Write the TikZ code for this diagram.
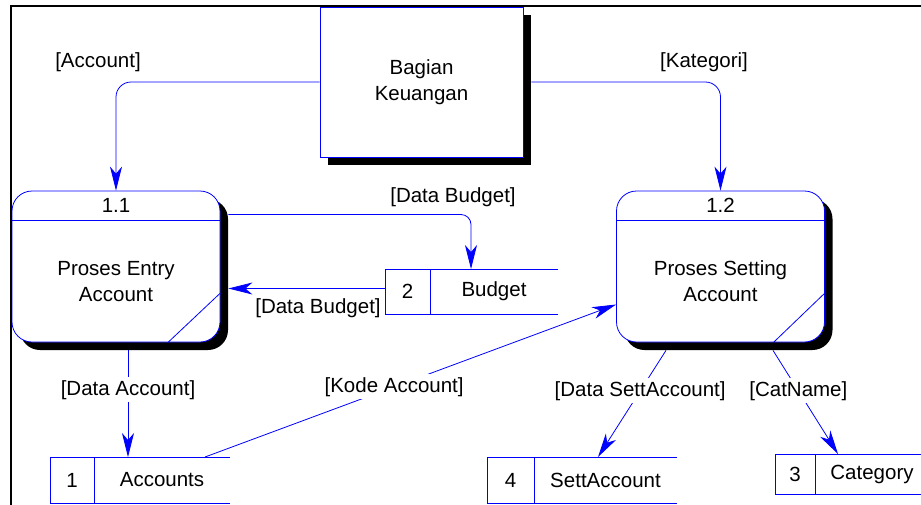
\documentclass[tikz,border=0pt]{standalone}
\usepackage{fontspec}
\setmainfont{Liberation Sans}
\usetikzlibrary{shapes,arrows.meta,positioning,calc,shadows}
\definecolor{flowblue}{RGB}{0,0,255}
\tikzset{
    % Define standard node styles
    entitybox/.style={
        rectangle, draw=flowblue, fill=white, line width=0.8pt,
        minimum width=203pt, minimum height=150pt, align=center,
        drop shadow={shadow xshift=8pt, shadow yshift=-8pt, fill=black, opacity=1}
    },
    processbox/.style={
        rectangle, draw=flowblue, fill=white, line width=0.8pt,
        minimum width=208pt, minimum height=151pt,
        rounded corners=20pt,
        drop shadow={shadow xshift=8pt, shadow yshift=-8pt, fill=black, opacity=1}
    },
    proctext/.style={
        align=center, inner sep=0pt
    },
    storeid/.style={
        rectangle, draw=flowblue, line width=0.8pt,
        inner sep=0pt, outer sep=0pt
    },
    storename/.style={
        rectangle, inner sep=0pt, outer sep=0pt
    },
    storeline/.style={
        draw=flowblue, line width=0.8pt
    },
    flow/.style={
        ->, draw=flowblue, line width=0.8pt
    },
    flowlabel/.style={
        inner sep=2pt, text=black
    },
    linelabel/.style={
        fill=white, inner sep=3pt, text=black
    }
}
\begin{document}
\begin{tikzpicture}[x=1pt, y=-1pt, font=\fontsize{20.5pt}{26pt}\selectfont,
    >={Stealth[length=24pt, width=12pt, inset=7pt]}]

\useasboundingbox (0,0) rectangle (921,504);
\clip (0,0) rectangle (921,504);

% External entity
\node[entitybox] (bagian) at (421.5,82) {Bagian\\Keuangan};

% Processes
\node[processbox] (p11) at (116,266.5) {};
\node[proctext] (p11num) at ($(p11.north)+(0,15)$) {1.1};
\node[proctext] (p11name) at ($(p11.center)+(0,15)$) {Proses Entry\\Account};
\draw[storeline] ($(p11.north west)+(0,30)$) -- ($(p11.north east)+(0,30)$);
\draw[storeline] ($(p11.east)+(0,26.5)$) -- ($(p11.south)+(52,0)$);

\node[processbox] (p12) at (720.5,266.5) {};
\node[proctext] (p12num) at ($(p12.north)+(0,15)$) {1.2};
\node[proctext] (p12name) at ($(p12.center)+(0,15)$) {Proses Setting\\Account};
\draw[storeline] ($(p12.north west)+(0,30)$) -- ($(p12.north east)+(0,30)$);
\draw[storeline] ($(p12.east)+(0,26.5)$) -- ($(p12.south)+(53,0)$);

% Data stores
\node[storeid, minimum width=45pt, minimum height=45pt] (s2) at (407.5,291.5) {2};
\node[storename, minimum width=128pt, minimum height=45pt, right=0pt of s2] (budget) {Budget};
\draw[storeline] (s2.north east) -- (budget.north east) (s2.south east) -- (budget.south east);

\node[storeid, minimum width=44pt, minimum height=46pt] (s1) at (72,480) {1};
\node[storename, minimum width=136pt, minimum height=46pt, right=0pt of s1] (accounts) {Accounts};
\draw[storeline] (s1.north east) -- (accounts.north east) (s1.south east) -- (accounts.south east);

\node[storeid, minimum width=47pt, minimum height=46pt] (s4) at (510.5,480) {4};
\node[storename, minimum width=143pt, minimum height=46pt, right=0pt of s4] (settacc) {SettAccount};
\draw[storeline] (s4.north east) -- (settacc.north east) (s4.south east) -- (settacc.south east);

\node[storeid, minimum width=40pt, minimum height=40pt] (s3) at (795,474) {3};
\node[storename, minimum width=114pt, minimum height=40pt, right=0pt of s3] (category) {Category};
\draw[storeline] (s3.north east) -- (category.north east) (s3.south east) -- (category.south east);

% Flows from the entity
\draw[flow, rounded corners=15pt] (bagian.west) -| (p11.north);
\draw[flow, rounded corners=15pt] ($(bagian.east)+(8,0)$) -| (p12.north);
\node[flowlabel] (lAccount) at (98,62) {[Account]};
\node[flowlabel] (lKategori) at (704,62) {[Kategori]};

% Budget flows
\draw[flow, rounded corners=10pt] ($(p11.east)+(8,-52)$) -| ($(budget.north west)+(41,0)$);
\draw[flow] ($(s2.west)+(0,-3)$) -- ($(p11.east |- s2.west)+(8,-3)$);
\node[flowlabel] (lBudgetIn) at (453,197) {[Data Budget]};
\node[flowlabel] (lBudgetOut) at (318,308) {[Data Budget]};

% Account flows
\coordinate (daStart) at ($(p11.south)+(12,8)$);
\draw[flow] (daStart) -- (daStart |- accounts.north)
    node[linelabel, pos=0.37] {[Data Account]};
\draw[flow] ($(accounts.north)+(43,0)$) -- ($(p12.west)+(0,38)$)
    node[linelabel, pos=0.46] {[Kode Account]};

% Setting flows
\draw[flow] ($(p12.south)+(-54.5,8)$) -- ($(settacc.north)+(-7.5,0)$)
    node[linelabel, pos=0.38] {[Data SettAccount]};
\draw[flow] ($(p12.south)+(52.5,8)$) -- ($(category.north)+(-34,0)$)
    node[linelabel, pos=0.39] {[CatName]};

% Frame
\draw[line width=1.5pt] (11,515) -- (11,6) -- (930,6);

\end{tikzpicture}
\end{document}
